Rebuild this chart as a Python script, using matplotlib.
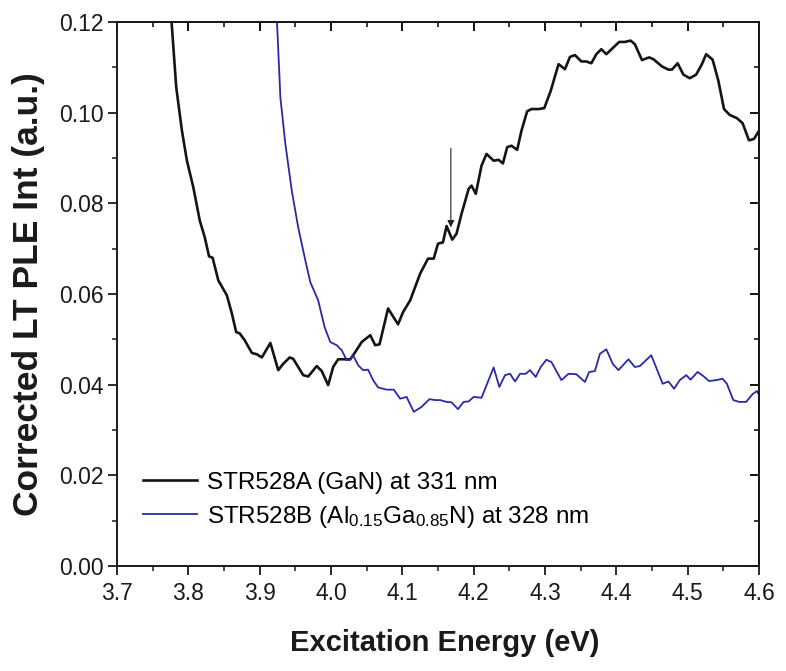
import matplotlib
matplotlib.use("Agg")
import matplotlib.pyplot as plt
from matplotlib.ticker import MultipleLocator, FormatStrFormatter

plt.rcParams['font.family'] = ['Liberation Sans', 'DejaVu Sans']
plt.rcParams['mathtext.fontset'] = 'custom'
plt.rcParams['mathtext.rm'] = 'Liberation Sans'
plt.rcParams['mathtext.it'] = 'Liberation Sans'
plt.rcParams['mathtext.default'] = 'regular'

# GaN sample (STR528A), PLE detected at 331 nm
gan_energy = [3.776, 3.783, 3.791, 3.798, 3.807, 3.816, 3.823, 3.829, 3.834, 3.842,
              3.854, 3.861, 3.867, 3.872, 3.879, 3.889, 3.896, 3.903, 3.915, 3.926,
              3.933, 3.942, 3.947, 3.961, 3.968, 3.980, 3.987, 3.996, 4.003, 4.010,
              4.017, 4.027, 4.034, 4.043, 4.055, 4.062, 4.068, 4.080, 4.094, 4.101,
              4.111, 4.125, 4.136, 4.144, 4.150, 4.157, 4.162, 4.170, 4.176, 4.183,
              4.193, 4.197, 4.203, 4.211, 4.218, 4.228, 4.235, 4.241, 4.247, 4.253,
              4.261, 4.267, 4.275, 4.281, 4.291, 4.299, 4.308, 4.319, 4.328, 4.335,
              4.342, 4.351, 4.358, 4.365, 4.372, 4.379, 4.386, 4.396, 4.404, 4.412,
              4.420, 4.426, 4.436, 4.446, 4.452, 4.464, 4.473, 4.478, 4.486, 4.494,
              4.503, 4.512, 4.520, 4.526, 4.535, 4.543, 4.551, 4.559, 4.569, 4.577,
              4.586, 4.593, 4.600]
gan_int = [0.1210, 0.1056, 0.0960, 0.0894, 0.0835, 0.0762, 0.0725, 0.0683, 0.0680, 0.0630,
           0.0597, 0.0557, 0.0516, 0.0513, 0.0498, 0.0470, 0.0467, 0.0460, 0.0492, 0.0432,
           0.0446, 0.0460, 0.0457, 0.0421, 0.0418, 0.0441, 0.0430, 0.0399, 0.0439, 0.0456,
           0.0456, 0.0456, 0.0472, 0.0494, 0.0509, 0.0487, 0.0489, 0.0568, 0.0533, 0.0560,
           0.0586, 0.0645, 0.0678, 0.0678, 0.0711, 0.0714, 0.0750, 0.0720, 0.0733, 0.0777,
           0.0832, 0.0839, 0.0821, 0.0883, 0.0909, 0.0894, 0.0896, 0.0888, 0.0924, 0.0927,
           0.0918, 0.0960, 0.1003, 0.1008, 0.1008, 0.1010, 0.1048, 0.1107, 0.1096, 0.1123,
           0.1127, 0.1113, 0.1113, 0.1109, 0.1129, 0.1140, 0.1129, 0.1144, 0.1156, 0.1156,
           0.1159, 0.1151, 0.1116, 0.1122, 0.1118, 0.1102, 0.1095, 0.1095, 0.1109, 0.1084,
           0.1076, 0.1084, 0.1107, 0.1129, 0.1117, 0.1071, 0.1008, 0.0995, 0.0988, 0.0977,
           0.0939, 0.0942, 0.0960]

# AlGaN sample (STR528B), PLE detected at 328 nm
algan_energy = [3.924, 3.929, 3.936, 3.945, 3.954, 3.964, 3.971, 3.982, 3.991, 3.999,
                4.008, 4.015, 4.022, 4.027, 4.031, 4.038, 4.045, 4.052, 4.059, 4.066,
                4.078, 4.088, 4.097, 4.106, 4.116, 4.127, 4.138, 4.146, 4.153, 4.162,
                4.169, 4.178, 4.186, 4.193, 4.200, 4.211, 4.228, 4.236, 4.244, 4.251,
                4.258, 4.265, 4.273, 4.279, 4.287, 4.294, 4.302, 4.309, 4.323, 4.333,
                4.344, 4.356, 4.362, 4.370, 4.377, 4.386, 4.395, 4.403, 4.417, 4.426,
                4.433, 4.449, 4.465, 4.473, 4.481, 4.489, 4.498, 4.504, 4.514, 4.522,
                4.530, 4.540, 4.549, 4.555, 4.564, 4.572, 4.582, 4.591, 4.597, 4.602]
algan_int = [0.1210, 0.1034, 0.0931, 0.0828, 0.0747, 0.0674, 0.0626, 0.0586, 0.0527, 0.0494,
             0.0487, 0.0476, 0.0454, 0.0455, 0.0465, 0.0443, 0.0432, 0.0433, 0.0410, 0.0394,
             0.0389, 0.0389, 0.0369, 0.0373, 0.0340, 0.0351, 0.0368, 0.0366, 0.0366, 0.0362,
             0.0361, 0.0346, 0.0362, 0.0363, 0.0373, 0.0371, 0.0438, 0.0395, 0.0421, 0.0424,
             0.0407, 0.0424, 0.0424, 0.0432, 0.0417, 0.0439, 0.0455, 0.0450, 0.0410, 0.0424,
             0.0423, 0.0406, 0.0428, 0.0430, 0.0468, 0.0478, 0.0446, 0.0432, 0.0456, 0.0439,
             0.0441, 0.0465, 0.0402, 0.0407, 0.0391, 0.0410, 0.0421, 0.0411, 0.0428, 0.0419,
             0.0408, 0.0410, 0.0413, 0.0402, 0.0366, 0.0362, 0.0362, 0.0379, 0.0386, 0.0372]

gan_label = "STR528A (GaN) at 331 nm"
algan_label = "STR528B (Al$_{0.15}$Ga$_{0.85}$N) at 328 nm"

x_ticks = [3.7, 3.8, 3.9, 4.0, 4.1, 4.2, 4.3, 4.4, 4.5, 4.6]
y_ticks = [0.00, 0.02, 0.04, 0.06, 0.08, 0.10, 0.12]

# marked feature on the GaN curve
arrow_energy = 4.168
arrow_tail = 0.0921
arrow_tip = 0.0747

fig = plt.figure(figsize=(7.86, 6.71), dpi=100)
ax = fig.add_axes([0.1489, 0.1565, 0.8167, 0.8107])

ax.plot(gan_energy, gan_int, color='#141414', lw=1.9, label=gan_label, solid_joinstyle='round')
ax.plot(algan_energy, algan_int, color='#2a2aa6', lw=1.3, label=algan_label, solid_joinstyle='round')

ax.annotate('', xy=(arrow_energy, arrow_tip), xytext=(arrow_energy, arrow_tail),
            arrowprops=dict(arrowstyle='-|>', color='#222222', lw=0.8,
                            mutation_scale=10, shrinkA=0, shrinkB=0))

ax.set_xlim(3.7, 4.6)
ax.set_ylim(0.0, 0.12)
ax.set_xticks(x_ticks)
ax.set_yticks(y_ticks)
ax.xaxis.set_major_formatter(FormatStrFormatter('%.1f'))
ax.yaxis.set_major_formatter(FormatStrFormatter('%.2f'))
ax.xaxis.set_minor_locator(MultipleLocator(0.05))
ax.yaxis.set_minor_locator(MultipleLocator(0.01))

for s in ax.spines.values():
    s.set_linewidth(1.4)
    s.set_color('#1a1a1a')

ax.tick_params(axis='both', which='major', labelsize=16.5, width=1.3, length=6.5,
               color='#1a1a1a', labelcolor='#1a1a1a')
ax.tick_params(axis='both', which='minor', width=1.1, length=3.5, color='#1a1a1a')
ax.tick_params(axis='x', which='both', direction='out', top=False)
ax.tick_params(axis='y', which='both', direction='out', right=False)
ax.tick_params(axis='x', which='major', pad=5)
ax.tick_params(axis='y', which='major', pad=3)

# mirrored inward ticks on the top and right
sec_x = ax.secondary_xaxis('top')
sec_x.set_xticks(x_ticks)
sec_x.xaxis.set_minor_locator(MultipleLocator(0.05))
sec_x.tick_params(which='major', direction='in', length=6.5, width=1.3, labeltop=False)
sec_x.tick_params(which='minor', direction='in', length=3.5, width=1.1)
sec_x.spines['top'].set_linewidth(1.4)
sec_y = ax.secondary_yaxis('right')
sec_y.set_yticks(y_ticks)
sec_y.yaxis.set_minor_locator(MultipleLocator(0.01))
sec_y.tick_params(which='major', direction='in', length=6.5, width=1.3, labelright=False)
sec_y.tick_params(which='minor', direction='in', length=3.5, width=1.1)
sec_y.spines['right'].set_linewidth(1.4)

ax.set_xlabel('Excitation Energy (eV)', fontsize=21, fontweight='bold',
              color='#1a1a1a')
ax.xaxis.set_label_coords(0.51, -0.115)
ax.set_ylabel('Corrected LT PLE Int (a.u.)', fontsize=25.5, fontweight='bold', labelpad=10,
              color='#1a1a1a')

ax.legend(loc='center left', bbox_to_anchor=(0.04, 0.12), frameon=False,
          fontsize=17.5, handlelength=2.25, handletextpad=0.4, labelspacing=0.4,
          borderpad=0, borderaxespad=0)

fig.savefig('out.png', dpi=100, facecolor='white')
